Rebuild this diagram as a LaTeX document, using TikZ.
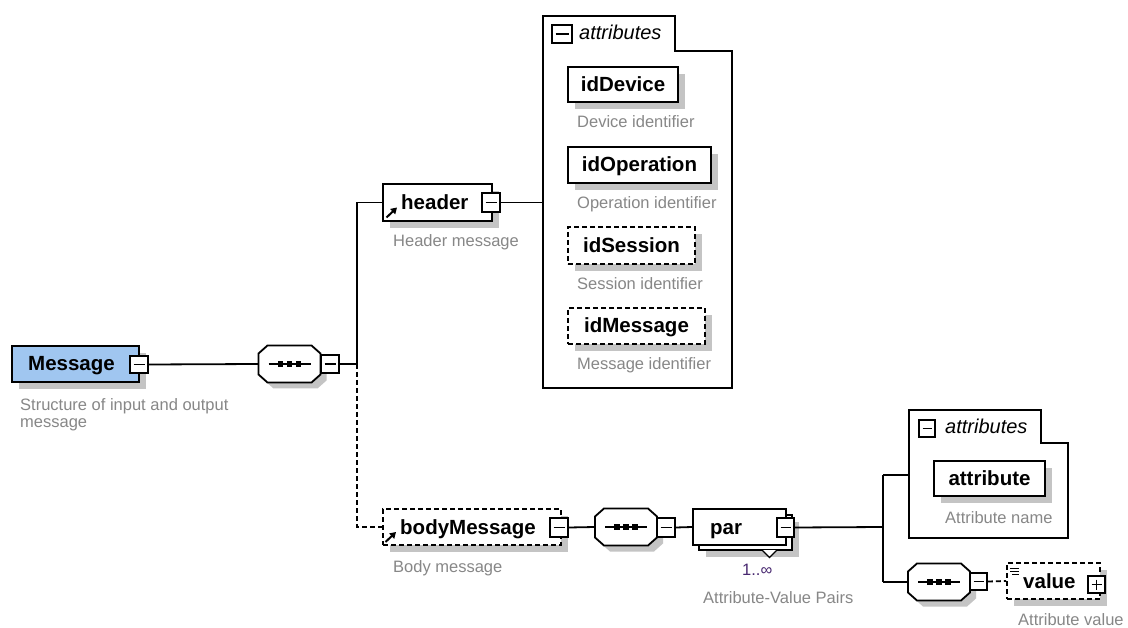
\documentclass[tikz,border=0pt]{standalone}
\usepackage{fontspec}
\setmainfont{Liberation Sans}
\usetikzlibrary{arrows.meta,shadows}
\definecolor{msgblue}{RGB}{160,198,240}
\definecolor{shadowc}{RGB}{196,196,196}
\definecolor{descgray}{RGB}{135,135,135}
\definecolor{occur}{RGB}{72,40,112}
\tikzset{
  ln/.style={line width=1.8pt},
  dln/.style={line width=1.8pt, dash pattern=on 5pt off 3pt},
  elem/.style={draw, line width=1.8pt, fill=white, inner sep=0,
    drop shadow={shadow xshift=7pt, shadow yshift=-7pt, fill=shadowc, opacity=1}},
  optelem/.style={elem, dash pattern=on 5pt off 3pt},
  plainbox/.style={draw, line width=1.8pt, fill=white, inner sep=0},
  hitbox/.style={inner sep=0, draw=none},
  minusbox/.style={draw, fill=white, line width=1.6pt, inner sep=0,
    minimum width=18pt, minimum height=18pt,
    path picture={\draw[line width=1.5pt] ([xshift=3.5pt]path picture bounding box.west) -- ([xshift=-3.5pt]path picture bounding box.east);}},
  plusbox/.style={minusbox,
    path picture={\draw[line width=1.5pt] ([xshift=3.5pt]path picture bounding box.west) -- ([xshift=-3.5pt]path picture bounding box.east);
      \draw[line width=1.5pt] ([yshift=-3.5pt]path picture bounding box.north) -- ([yshift=3.5pt]path picture bounding box.south);}},
  elname/.style={font=\fontsize{20.5}{24}\selectfont\bfseries, inner sep=0},
  desc/.style={font=\fontsize{16.5}{19}\selectfont, text=descgray, inner sep=0, anchor=base west},
  grptitle/.style={font=\fontsize{20}{24}\selectfont\itshape, inner sep=0, anchor=base west},
  refarrow/.style={line width=2pt, -{Triangle[length=6pt,width=7pt]}},
  pics/seqcomp/.style={code={
    \begin{scope}[shift={(6,6)}]
      \fill[shadowc] (-22,-18.5) -- (22,-18.5) -- (31,-10.5) -- (31,10.5) -- (22,18.5) -- (-22,18.5) -- (-31,10.5) -- (-31,-10.5) -- cycle;
    \end{scope}
    \draw[ln, fill=white] (-22,-18.5) -- (22,-18.5) -- (31,-10.5) -- (31,10.5) -- (22,18.5) -- (-22,18.5) -- (-31,10.5) -- (-31,-10.5) -- cycle;
    \draw[ln] (-21,0) -- (21,0);
    \foreach \i in {-9,0,9} \fill (\i-2.6,-2.6) rectangle (\i+2.6,2.6);
  }}
}
\begin{document}
\begin{tikzpicture}[x=1pt,y=-1pt]
\useasboundingbox[fill=white] (0,0) rectangle (1128,628);

% ---------- Message ----------
\node[elem, fill=msgblue, minimum width=127pt, minimum height=36pt] (msg) at (75.5,364) {};
\node[elname, anchor=base west] (msgtxt) at (28,371) {Message};
\node[minusbox, minimum height=17pt] (msgm) at (139,364.5) {};
\node[desc] (msgdA) at (20,411) {Structure of input and output};
\node[desc] (msgdB) at (20,428) {message};

% ---------- sequence 1 ----------
\pic at (289.5,364) {seqcomp};
\node[hitbox, minimum width=62pt, minimum height=37pt] (seq1) at (289.5,364) {};
\node[minusbox] (seq1m) at (330,364) {};
\coordinate (j1) at (357,364);
\coordinate (j1top) at (357,202.5);
\coordinate (j1bot) at (357,527);

% ---------- header ----------
\node[elem, minimum width=109pt, minimum height=37pt] (header) at (437.5,202.5) {};
\node[elname, anchor=base west] (headertxt) at (401,209.5) {header};
\coordinate (hicA) at (386.5,217.5);
\coordinate (hicB) at (397,207.5);
\draw[refarrow] (hicA) -- (hicB);
\node[minusbox, minimum height=19pt] (hm) at (491,202.5) {};
\node[desc] (hdesc) at (393,247) {Header message};

% ---------- attributes group 1 ----------
\draw[ln] (543,16) -- (675,16) -- (675,51) -- (732,51) -- (732,388) -- (543,388) -- cycle;
\coordinate (a1) at (543,202.5);
\node[minusbox, minimum width=20pt, minimum height=18pt] (g1m) at (562,34) {};
\node[grptitle] (g1t) at (579,40) {attributes};

\node[elem, minimum width=110pt, minimum height=35pt] (idDev) at (623,84.5) {};
\node[elname, anchor=base] (idDevtxt) at (623,91.5) {idDevice};
\node[desc] (idDevd) at (577,128) {Device identifier};

\node[elem, minimum width=143pt, minimum height=36pt] (idOp) at (639.5,165) {};
\node[elname, anchor=base] (idOptxt) at (639.5,172) {idOperation};
\node[desc] (idOpd) at (577,209) {Operation identifier};

\node[optelem, minimum width=127pt, minimum height=37pt] (idSes) at (631.5,245.5) {};
\node[elname, anchor=base] (idSestxt) at (631.5,252.5) {idSession};
\node[desc] (idSesd) at (577,290) {Session identifier};

\node[optelem, minimum width=137pt, minimum height=36pt] (idMsg) at (636.5,326) {};
\node[elname, anchor=base] (idMsgtxt) at (636.5,333) {idMessage};
\node[desc] (idMsgd) at (577,370) {Message identifier};

% ---------- bodyMessage ----------
\node[optelem, minimum width=178pt, minimum height=36pt] (body) at (472,527) {};
\node[elname, anchor=base west] (bodytxt) at (400,534) {bodyMessage};
\coordinate (bicA) at (385.5,542);
\coordinate (bicB) at (396,532);
\draw[refarrow] (bicA) -- (bicB);
\node[minusbox, minimum height=19pt] (bm) at (559,527.5) {};
\node[desc] (bdesc) at (393,572) {Body message};

% ---------- sequence 2 ----------
\pic at (626,527) {seqcomp};
\node[hitbox, minimum width=62pt, minimum height=37pt] (seq2) at (626,527) {};
\node[minusbox, minimum height=19pt] (seq2m) at (666,527.5) {};

% ---------- par ----------
\node[elem, minimum width=93pt, minimum height=35pt] (parb) at (745.5,532.5) {};
\draw[line width=1.3pt, fill=white] (762,550) -- (769.5,557.5) -- (777,550);
\node[plainbox, minimum width=93pt, minimum height=36pt] (parf) at (739.5,527) {};
\node[elname, anchor=base west] (partxt) at (710,534) {par};
\node[minusbox, minimum width=17pt, minimum height=19pt] (parm) at (785.5,527.5) {};
\node[inner sep=0, anchor=base west, text=occur, font=\fontsize{16.5}{19}\selectfont] (occ) at (742,575) {1..∞};
\node[desc] (pardesc) at (703,603) {Attribute-Value Pairs};
\coordinate (j2) at (883,527);
\coordinate (j2top) at (883,475);
\coordinate (j2bot) at (883,582);

% ---------- attributes group 2 ----------
\draw[ln] (909,410) -- (1041,410) -- (1041,443) -- (1068,443) -- (1068,538) -- (909,538) -- cycle;
\coordinate (a2) at (909,475);
\node[minusbox, minimum width=16pt, minimum height=17pt] (g2m) at (927,428.5) {};
\node[grptitle] (g2t) at (945,433) {attributes};
\node[elem, minimum width=111pt, minimum height=35pt] (attr) at (989.5,478.5) {};
\node[elname, anchor=base] (attrtxt) at (989.5,485.5) {attribute};
\node[desc] (attrd) at (945,523) {Attribute name};

% ---------- sequence 3 ----------
\pic at (939,582) {seqcomp};
\node[hitbox, minimum width=62pt, minimum height=37pt] (seq3) at (939,582) {};
\node[minusbox, minimum width=17pt, minimum height=17pt] (seq3m) at (978.5,581.5) {};

% ---------- value ----------
\node[optelem, minimum width=93pt, minimum height=36pt] (value) at (1053.5,581) {};
\node[elname, anchor=base west] (valtxt) at (1023,588) {value};
\draw[line width=1pt] (1010,568) -- (1019,568) (1010,571) -- (1019,571) (1012,574) -- (1019,574);
\node[plusbox, minimum width=17pt, minimum height=17pt] (valp) at (1096.5,584.5) {};
\node[desc] (valdesc) at (1018,625) {Attribute value};

% ---------- connectors ----------
\draw[ln] (msgm.east) -- (seq1.west);
\draw[ln] (seq1m.east) -- (j1);
\draw[ln] (j1) -- (j1top) -- (header.west);
\draw[dln] (j1) -- (j1bot) -- (body.west);
\draw[ln] (hm.east) -- (a1);
\draw[ln] (bm.east) -- (seq2.west);
\draw[ln] (seq2m.east) -- (parf.west);
\draw[ln] (parm.east) -- (j2);
\draw[ln] (j2top) -- (j2bot);
\draw[ln] (j2top) -- (a2);
\draw[ln] (j2bot) -- (seq3.west);
\draw[dln] (seq3m.east) -- (value.west);
\end{tikzpicture}
\end{document}
